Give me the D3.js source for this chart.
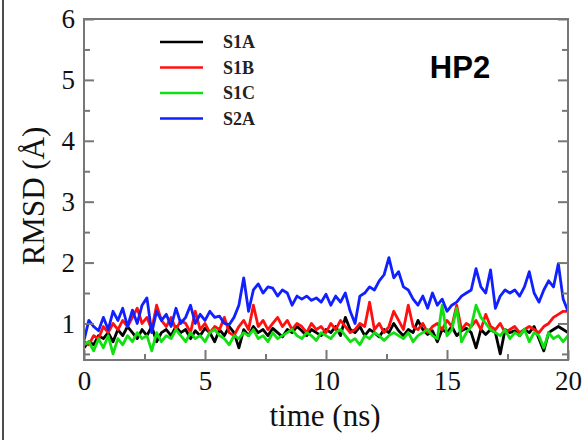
<!DOCTYPE html>
<html>
<head>
<meta charset="utf-8">
<script src="https://cdn.jsdelivr.net/npm/d3@7"></script>
<style>
  body { margin: 0; background: #fff; }
  svg { display: block; }
</style>
</head>
<body>
<div class="container"></div>
<script>
// RMSD traces, one value every 0.2 ns from 0 to 20 ns
const s1a = [0.6, 0.7, 0.65, 0.8, 0.75, 0.85, 0.7, 0.9, 0.8, 0.95, 0.85, 0.75, 0.9, 0.8, 0.95, 0.7, 0.85, 0.9, 0.8, 0.95,
  0.85, 0.9, 0.75, 0.88, 0.8, 0.92, 0.85, 0.7, 0.9, 0.8, 0.95, 0.85, 0.6, 0.9, 0.8, 0.95, 0.85, 0.9, 0.8, 0.92,
  0.85, 0.78, 0.9, 0.85, 0.95, 0.88, 0.8, 0.9, 0.85, 0.8, 0.9, 0.85, 0.95, 0.8, 1.1, 0.9, 0.85, 0.95, 0.8, 0.9,
  0.85, 0.78, 0.9, 0.85, 1.0, 0.88, 0.8, 0.9, 0.85, 1.05, 0.9, 0.82, 0.88, 0.7, 0.9, 0.85, 0.95, 0.8, 0.88, 0.92,
  0.85, 0.6, 0.9, 0.82, 0.9, 0.85, 0.5, 0.9, 0.85, 0.88, 0.8, 0.9, 0.85, 0.95, 0.75, 0.55, 0.85, 0.9, 0.95, 0.9, 0.85]
const s1b = [0.7, 0.65, 0.8, 0.75, 0.95, 0.85, 1.0, 0.9, 1.05, 0.95, 1.1, 1.25, 1.0, 1.1, 0.9, 1.3, 1.05, 0.95, 1.1, 0.9,
  1.05, 1.0, 0.85, 1.2, 0.9, 1.0, 0.85, 0.95, 0.9, 1.1, 0.85, 0.8, 0.95, 1.05, 0.9, 1.3, 0.95, 1.05, 0.9, 1.0,
  1.1, 0.95, 1.05, 0.9, 1.0, 0.95, 0.85, 1.0, 0.9, 0.95, 0.85, 1.0, 0.9, 1.05, 0.95, 0.85, 0.9, 1.0, 0.95, 1.35,
  0.9, 1.0, 0.85, 0.95, 1.2, 1.05, 0.9, 1.3, 0.95, 0.9, 1.0, 0.85, 0.95, 1.0, 0.9, 1.05, 0.95, 1.3, 0.9, 1.0,
  0.95, 1.05, 0.9, 1.15, 0.95, 0.9, 1.0, 0.85, 0.9, 0.95, 0.85, 0.9, 0.95, 0.9, 0.85, 0.95, 1.0, 1.1, 1.15, 1.2, 1.2]
const s1c = [0.65, 0.7, 0.55, 0.75, 0.6, 0.8, 0.5, 0.75, 0.65, 0.8, 0.7, 0.85, 0.75, 0.8, 0.55, 0.85, 0.7, 0.8, 0.75, 0.9,
  0.8, 0.7, 0.85, 0.75, 0.8, 0.7, 0.85, 0.9, 0.8, 0.75, 0.65, 0.8, 0.75, 0.85, 0.8, 0.9, 0.75, 0.8, 0.7, 0.85,
  0.75, 0.8, 0.85, 0.9, 0.8, 0.75, 0.85, 0.8, 0.72, 0.85, 0.8, 0.75, 0.85, 0.9, 0.8, 0.7, 0.75, 0.65, 0.8, 0.75,
  0.85, 0.8, 0.72, 0.8, 0.85, 0.8, 0.75, 0.85, 0.7, 0.8, 0.85, 0.9, 0.8, 0.75, 1.3, 0.8, 0.9, 1.25, 0.7, 0.85,
  0.95, 1.3, 1.1, 1.0, 0.9, 0.85, 0.8, 0.9, 0.75, 0.85, 0.8, 0.9, 0.7, 0.85, 0.8, 0.6, 0.85, 0.75, 0.8, 0.7, 0.8]
const s2a = [0.72, 1.05, 0.95, 0.88, 1.1, 0.9, 1.2, 1.05, 1.25, 0.95, 1.22, 1.0, 1.3, 1.42, 0.85, 1.2, 1.05, 1.15, 0.95, 1.25,
  1.0, 1.1, 1.3, 1.0, 1.15, 1.05, 1.2, 1.1, 1.12, 1.0, 0.98, 1.1, 1.3, 1.75, 1.2, 1.55, 1.65, 1.5, 1.6, 1.58,
  1.45, 1.55, 1.5, 1.3, 1.45, 1.4, 1.45, 1.38, 1.42, 1.35, 1.48, 1.3, 1.45, 1.35, 1.5, 1.2, 1.0, 1.45, 1.5, 1.6,
  1.55, 1.7, 1.8, 2.08, 1.75, 1.85, 1.6, 1.55, 1.4, 1.3, 1.45, 1.25, 1.5, 1.3, 1.4, 1.2, 1.3, 1.35, 1.45, 1.5,
  1.55, 1.9, 1.6, 1.5, 1.88, 1.25, 1.45, 1.55, 1.5, 1.55, 1.45, 1.6, 1.85, 1.5, 1.35, 1.55, 1.7, 1.6, 1.98, 1.4, 1.2]

const seriesNames = ['S1A', 'S1B', 'S1C', 'S2A']
const seriesColors = ['#000000', '#ff1010', '#10e010', '#1020ff']
const seriesValues = [s1a, s1b, s1c, s2a]

const xTicks = [0, 5, 10, 15, 20]
const yTicks = [1, 2, 3, 4, 5, 6]
const xMinor = [2.5, 7.5, 12.5, 17.5]
const yMinor = [0.5, 1.5, 2.5, 3.5, 4.5, 5.5]

const width = 585
const height = 440
const margin = {top: 19, right: 17, bottom: 80, left: 84}
const innerW = width - margin.left - margin.right
const innerH = height - margin.top - margin.bottom

const svg = d3.select('.container')
    .append('svg')
    .attr('width', width)
    .attr('height', height)

svg.append('rect')
    .attr('width', width).attr('height', height)
    .attr('fill', '#fff')

// left edge of the page frame
svg.append('line')
    .attr('x1', 3).attr('x2', 3).attr('y1', 0).attr('y2', height)
    .attr('stroke', '#111').attr('stroke-width', 1.5)

const x = d3.scaleLinear().domain([0, 20]).range([0, innerW])
const y = d3.scaleLinear().domain([0.4, 6]).range([innerH, 0])

const g = svg.append('g')
    .attr('transform', 'translate(' + margin.left + ',' + margin.top + ')')

g.append('clipPath').attr('id', 'clip')
    .append('rect').attr('width', innerW).attr('height', innerH)

const line = d3.line()
    .x((d, i, arr) => x(i * 20 / (arr.length - 1)))
    .y(d => y(d))

const plot = g.append('g').attr('clip-path', 'url(#clip)')
seriesValues.forEach((vals, k) => {
    plot.append('path')
        .datum(vals)
        .attr('fill', 'none')
        .attr('stroke', seriesColors[k])
        .attr('stroke-width', 2.8)
        .attr('stroke-linejoin', 'round')
        .attr('d', line)
})

// axes with inward ticks
const tickStyle = sel => {
    sel.select('.domain').remove()
    sel.selectAll('line').attr('stroke', '#777').attr('stroke-width', 2)
    sel.selectAll('text')
        .attr('font-family', '"Liberation Serif", "DejaVu Serif", serif')
        .attr('font-size', 27)
        .attr('fill', '#111')
}

g.append('g')
    .attr('transform', 'translate(0,' + innerH + ')')
    .call(d3.axisBottom(x).tickValues(xTicks).tickSize(-10).tickPadding(11).tickFormat(d3.format('d')))
    .call(tickStyle)
g.append('g')
    .attr('transform', 'translate(0,' + innerH + ')')
    .call(d3.axisBottom(x).tickValues(xMinor).tickSize(-6).tickFormat(''))
    .call(tickStyle)

g.append('g')
    .call(d3.axisLeft(y).tickValues(yTicks).tickSize(-10).tickPadding(9).tickFormat(d3.format('d')))
    .call(tickStyle)
g.append('g')
    .call(d3.axisLeft(y).tickValues(yMinor).tickSize(-6).tickFormat(''))
    .call(tickStyle)

g.append('g')
    .attr('transform', 'translate(' + innerW + ',0)')
    .call(d3.axisRight(y).tickValues(yTicks).tickSize(-10).tickFormat(''))
    .call(tickStyle)
g.append('g')
    .attr('transform', 'translate(' + innerW + ',0)')
    .call(d3.axisRight(y).tickValues(yMinor).tickSize(-6).tickFormat(''))
    .call(tickStyle)

g.append('rect')
    .attr('width', innerW).attr('height', innerH)
    .attr('fill', 'none')
    .attr('stroke', '#777').attr('stroke-width', 2)

// axis titles
svg.append('text')
    .attr('x', 325)
    .attr('y', 426)
    .attr('text-anchor', 'middle')
    .attr('font-family', '"Liberation Serif", "DejaVu Serif", serif')
    .attr('font-size', 31)
    .attr('fill', '#111')
    .text('time (ns)')

svg.append('text')
    .attr('transform', 'translate(44,196) rotate(-90)')
    .attr('text-anchor', 'middle')
    .attr('font-family', '"Liberation Serif", "DejaVu Serif", serif')
    .attr('font-size', 31)
    .attr('fill', '#111')
    .text('RMSD (Å)')

// legend
const legend = svg.append('g')
seriesNames.forEach((name, k) => {
    const ly = 42 + k * 25.5
    legend.append('line')
        .attr('x1', 160).attr('x2', 203)
        .attr('y1', ly).attr('y2', ly)
        .attr('stroke', seriesColors[k]).attr('stroke-width', 2.6)
    legend.append('text')
        .attr('x', 223).attr('y', ly + 6)
        .attr('font-family', '"Liberation Serif", "DejaVu Serif", serif')
        .attr('font-weight', 'bold')
        .attr('font-size', 18)
        .attr('fill', '#222')
        .text(name)
})

svg.append('text')
    .attr('x', 460).attr('y', 78)
    .attr('text-anchor', 'middle')
    .attr('font-family', '"Liberation Sans", Arial, sans-serif')
    .attr('font-weight', 'bold')
    .attr('font-size', 31)
    .attr('fill', '#000')
    .text('HP2')
</script>
</body>
</html>
